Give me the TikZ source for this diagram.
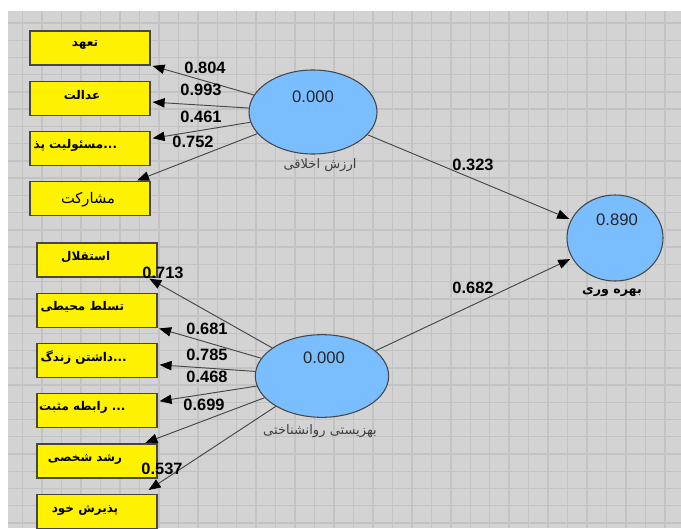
\documentclass[tikz,border=0pt]{standalone}
\usepackage{fontspec}
\setmainfont{Liberation Sans}
\newfontfamily\fa[Script=Arabic]{DejaVu Sans}
\TeXXeTstate=1
\usetikzlibrary{positioning,shapes.geometric,arrows.meta}

\definecolor{panel}{RGB}{211,211,211}
\definecolor{gridc}{RGB}{195,195,195}
\definecolor{latent}{RGB}{122,190,255}
\definecolor{edgec}{RGB}{70,70,70}

\tikzset{
  ind/.style={draw=edgec, line width=0.9pt, fill=yellow, minimum width=90pt, minimum height=25.5pt, inner sep=0pt},
  itemtxt/.style={font=\fa\bfseries\fontsize{9}{10}\selectfont, yshift=2.5pt},
  lv/.style={ellipse, draw=edgec, line width=0.8pt, fill=latent, inner sep=0pt},
  coef/.style={font=\bfseries\fontsize{12.3}{14}\selectfont},
  rsq/.style={font=\fontsize{12.5}{14}\selectfont, text=black!85},
  lvname/.style={font=\fa\fontsize{9.8}{11}\selectfont, text=black!75},
  load/.style={draw=edgec, line width=0.7pt, shorten >=1.5pt, -{Triangle[length=9pt,width=7pt,color=black]}},
}

\begin{document}
\begin{tikzpicture}[x=0.75pt, y=-0.75pt, node distance=37.7pt, on grid]

% background and grid
\fill[white] (0,0) rectangle (681,528);
\fill[panel] (8,11) rectangle (681,528);
\useasboundingbox (0,0) rectangle (681,528);
\foreach \i in {0,...,33}
  \draw[gridc, line width=1.1pt] ({22.7+19.46*\i},11) -- ({22.7+19.46*\i},528);
\foreach \j in {0,...,29}
  \draw[gridc, line width=1.1pt] (8,{23+17.24*\j}) -- (681,{23+17.24*\j});

% indicators of the first construct
\node[ind, label={[itemtxt, xshift=-3.75pt]center:{\beginR تعهد\endR}}] (i1) at (90,48) {};
\node[ind, label={[itemtxt, xshift=-6pt]center:{\beginR عدالت\endR}}] (i2) [below=of i1] {};
\node[ind, label={[itemtxt, xshift=-11pt]center:{\beginR مسئولیت پذ\endR...}}] (i3) [below=of i2] {};
\node[ind, label={[itemtxt, font=\fa\fontsize{11}{12}\selectfont, xshift=-1.5pt, yshift=-3.25pt]center:{\beginR مشارکت\endR}}] (i4) [below=of i3] {};

% indicators of the second construct
\node[ind, label={[itemtxt, xshift=-8.5pt]center:{\beginR استقلال\endR}}] (w1) at (97,260) {};
\node[ind, label={[itemtxt, xshift=-11pt]center:{\beginR تسلط محیطی\endR}}] (w2) [below=of w1] {};
\node[ind, label={[itemtxt, xshift=-10pt]center:{\beginR داشتن زندگ\endR...}}] (w3) [below=of w2] {};
\node[ind, label={[itemtxt, xshift=-11pt]center:{\beginR رابطه مثبت\endR{} ...}}] (w4) [below=of w3] {};
\node[ind, label={[itemtxt, xshift=-9pt, yshift=-1.5pt]center:{\beginR رشد شخصی\endR}}] (w5) [below=of w4] {};
\node[ind, label={[itemtxt, xshift=-9pt, yshift=-1.5pt]center:{\beginR پذیرش خود\endR}}] (w6) [below=of w5] {};

% constructs
\node[lv, minimum width=96pt, minimum height=63pt] (ethic) at (313,112) {};
\node[lv, minimum width=100pt, minimum height=62pt] (wellb) at (322,376) {};
\node[lv, minimum width=72pt, minimum height=64.5pt] (prod) at (615,238) {};

\node[rsq] (r1) at (313,97) {0.000};
\node[rsq] (r2) at (324,358) {0.000};
\node[rsq] (r3) at (617,220) {0.890};

\node[lvname] (n1) at (320,165) {\beginR ارزش اخلاقی\endR};
\node[lvname] (n2) at (320,431) {\beginR بهزیستی روانشناختی\endR};
\node[lvname, font=\fa\bfseries\fontsize{9.5}{11}\selectfont, text=black] (n3) at (612,292) {\beginR بهره وری\endR};

% connectors
\draw[load] (ethic) -- (i1);
\draw[load] (ethic) -- (i2);
\draw[load] (ethic) -- (i3);
\draw[load] (ethic) -- (i4);
\draw[load] (wellb) -- ([xshift=-7.5pt]w1.south east);
\draw[load] (wellb) -- (w2);
\draw[load] (wellb) -- (w3);
\draw[load] (wellb) -- (w4);
\draw[load] (wellb) -- (w5);
\draw[load] (wellb) -- ([xshift=-8pt, yshift=2pt]w6.north east);
\draw[load] (ethic) -- (prod);
\draw[load] (wellb) -- (prod);

% coefficients
\node[coef] (c1) at (205,68) {0.804};
\node[coef] (c2) at (201,90) {0.993};
\node[coef] (c3) at (201,117) {0.461};
\node[coef] (c4) at (193,142) {0.752};
\node[coef] (c5) at (163,273) {0.713};
\node[coef] (c6) at (207,329) {0.681};
\node[coef] (c7) at (207,355) {0.785};
\node[coef] (c8) at (207,377) {0.468};
\node[coef] (c9) at (204,405) {0.699};
\node[coef] (c10) at (162,469) {0.537};
\node[coef] (c11) at (473,165) {0.323};
\node[coef] (c12) at (473,288) {0.682};

\end{tikzpicture}
\end{document}
